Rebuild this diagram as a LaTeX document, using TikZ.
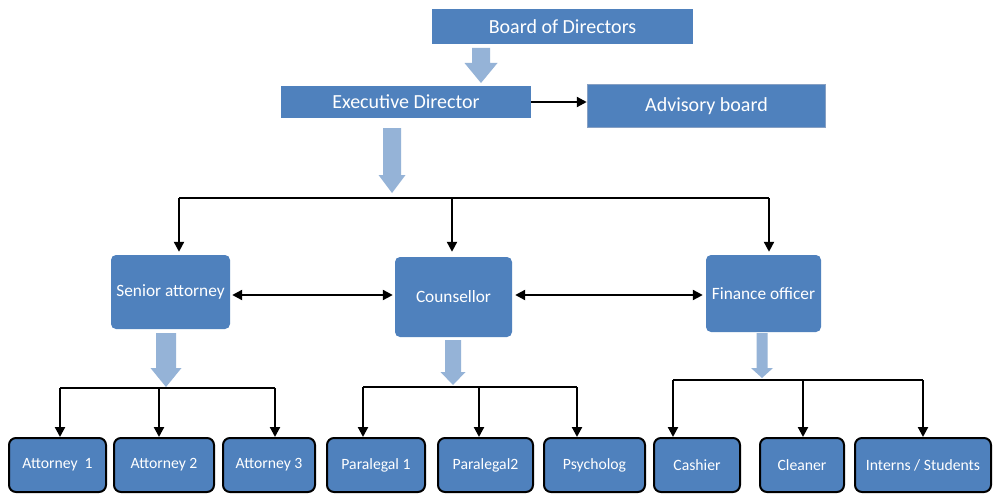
\documentclass[tikz,border=0pt]{standalone}
\usepackage{fontspec}
\setmainfont{Carlito}
\usetikzlibrary{arrows.meta}
\definecolor{boxblue}{RGB}{79,129,189}
\definecolor{lightblue}{RGB}{149,179,215}
\definecolor{advborder}{RGB}{135,160,195}
\newcommand{\fatarrow}[6]{% x, ytop, yheadstart, ytip, shafthalf, headhalf
  \fill[lightblue] (#1-#5,#2) -- (#1+#5,#2) -- (#1+#5,#3) -- (#1+#6,#3) -- (#1,#4) -- (#1-#6,#3) -- (#1-#5,#3) -- cycle;}
\begin{document}
\begin{tikzpicture}[x=1pt,y=-1pt,
  topbox/.style={fill=boxblue, text=white, inner sep=0pt, font=\fontsize{20}{24}\selectfont},
  midbox/.style={fill=boxblue, rounded corners=5pt, text=white, inner sep=0pt, font=\fontsize{17.3}{20}\selectfont},
  botbox/.style={fill=boxblue, draw=black, line width=2pt, rounded corners=7pt, text=white, inner sep=0pt, minimum height=54pt, font=\fontsize{15.7}{19}\selectfont},
  conn/.style={line width=2.2pt, draw=black},
  arr/.style={conn, -{Triangle[length=10pt,width=10pt]}},
  darr/.style={conn, {Triangle[length=10pt,width=10pt]}-{Triangle[length=10pt,width=10pt]}},
]
\useasboundingbox[fill=white] (0,0) rectangle (993,495);

% top level
\node[topbox, minimum width=261pt, minimum height=35pt] (board) at (562.5,26.5) {Board of Directors};
\node[topbox, minimum width=250pt, minimum height=32pt] (exec) at (406,102) {Executive Director};
\node[topbox, draw=advborder, line width=1.5pt, minimum width=238pt, minimum height=43pt] (adv) at (706.5,106) {Advisory board};

% middle level
\node[midbox, minimum width=119pt, minimum height=74pt] (senior) at (170.5,292) {Senior attorney};
\node[midbox, minimum width=117pt, minimum height=80pt] (couns) at (453.5,297) {Counsellor};
\node[midbox, minimum width=115pt, minimum height=77pt] (fin) at (763.5,293.5) {Finance officer};

% bottom level
\node[botbox, minimum width=97pt]  (a1) at (57.5,465) {Attorney\ \ 1};
\node[botbox, minimum width=100pt] (a2) at (164,465) {Attorney 2};
\node[botbox, minimum width=92pt]  (a3) at (269,465) {Attorney 3};
\node[botbox, minimum width=98pt]  (p1) at (376,465) {Paralegal 1};
\node[botbox, minimum width=95pt]  (p2) at (485.5,465) {Paralegal2};
\node[botbox, minimum width=101pt] (ps) at (594.5,465) {Psycholog};
\node[botbox, minimum width=86pt]  (ca) at (697,465) {Cashier};
\node[botbox, minimum width=84pt]  (cl) at (802,465) {Cleaner};
\node[botbox, minimum width=136pt] (in) at (923,465) {Interns / Students};

% fat arrows
\fatarrow{481}{48}{63}{83}{9}{16.5}
\fatarrow{392}{128}{175}{193}{9}{13.5}
\fatarrow{166}{333}{368}{387}{10}{15.5}
\fatarrow{453}{340}{372}{385}{8}{12.5}
\fatarrow{762}{333}{368}{378}{5.5}{11}

% exec -> advisory
\draw[arr] (exec.east) -- (exec.east -| adv.west);

% top distribution
\coordinate (tL) at (179,198);
\coordinate (tM) at (452,198);
\coordinate (tR) at (769,198);
\draw[conn] (tL) -- (tR);
\draw[arr, shorten >=3pt] (tL) -- (tL |- senior.north);
\draw[arr, shorten >=5pt] (tM) -- (tM |- couns.north);
\draw[arr, shorten >=3pt] (tR) -- (tR |- fin.north);

% horizontal double arrows
\coordinate (hm) at (450,295);
\draw[darr, shorten <=2pt, shorten >=2pt] (senior.east |- hm) -- (couns.west |- hm);
\draw[darr, shorten <=3pt, shorten >=3pt] (couns.east |- hm) -- (fin.west |- hm);

% bottom distributions
\coordinate (s1) at (60,388);
\coordinate (s2) at (159,388);
\coordinate (s3) at (275,388);
\draw[conn] (s1) -- (s3);
\draw[arr] (s1) -- (s1 |- a1.north);
\draw[arr] (s2) -- (s2 |- a2.north);
\draw[arr] (s3) -- (s3 |- a3.north);

\coordinate (c1) at (363,387);
\coordinate (c2) at (479,387);
\coordinate (c3) at (577,387);
\draw[conn] (c1) -- (c3);
\draw[arr] (c1) -- (c1 |- p1.north);
\draw[arr] (c2) -- (c2 |- p2.north);
\draw[arr] (c3) -- (c3 |- ps.north);

\coordinate (f1) at (673,380);
\coordinate (f2) at (803,380);
\coordinate (f3) at (923,380);
\draw[conn] (f1) -- (f3);
\draw[arr] (f1) -- (f1 |- ca.north);
\draw[arr] (f2) -- (f2 |- cl.north);
\draw[arr] (f3) -- (f3 |- in.north);
\end{tikzpicture}
\end{document}
